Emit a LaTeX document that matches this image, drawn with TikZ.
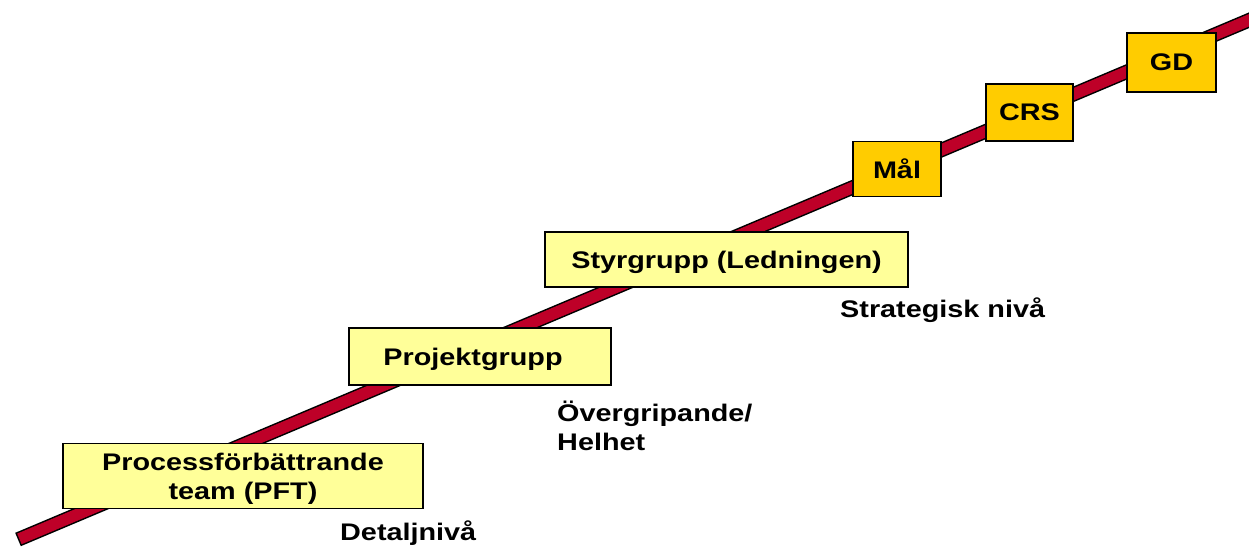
\documentclass[tikz,border=0pt]{standalone}
\usepackage{fontspec}
\newfontfamily\diafont{Liberation Sans}[FakeStretch=1.2]
\usepackage{tikz}
\definecolor{bandred}{RGB}{190,0,40}
\definecolor{lowbox}{RGB}{255,255,153}
\definecolor{topbox}{RGB}{255,204,0}

\begin{document}
\begin{tikzpicture}[x=1pt, y=-1pt,
		every node/.style={font=\diafont\bfseries\fontsize{24}{29}\selectfont, inner sep=0pt},
		level/.style={draw=black, line width=1.5pt, fill=lowbox, align=center, text depth=0pt},
		top/.style={draw=black, line width=1.5pt, fill=topbox, text depth=0pt},
		tag/.style={anchor=west, align=left}]
			\clip (0,0) rectangle (1249,547);
			\coordinate (lo) at (18,539.5);
			\coordinate (hi) at (1265,13.5);
			\draw [line width=14.5pt, black] (lo) -- (hi);
			\draw [line width=11.5pt, bandred, shorten <=1.5pt] (lo) -- (hi);
			\node [level, minimum width=360pt, minimum height=65pt] (pft) at (243,476) {Processförbättrande\\team (PFT)};
			\node [level, minimum width=262pt, minimum height=57pt] (proj) at (480,356.5) {Projektgrupp\hspace{14pt}};
			\node [level, minimum width=363pt, minimum height=55pt] (styr) at (726.5,259.5) {Styrgrupp (Ledningen)};
			\node [top, minimum width=88pt, minimum height=55pt] (mal) at (897,169) {Mål};
			\node [top, minimum width=87pt, minimum height=57pt] (crs) at (1029.5,112.5) {CRS};
			\node [top, minimum width=89pt, minimum height=59pt] (gd) at (1171.5,62.5) {GD};
			\node [tag] (detalj) at (340,533) {Detaljnivå};
			\node [tag] (helhet) at (557,426) {Övergripande/\\Helhet};
			\node [tag] (strat) at (840,310) {Strategisk nivå};
	\end{tikzpicture}
\end{document}
